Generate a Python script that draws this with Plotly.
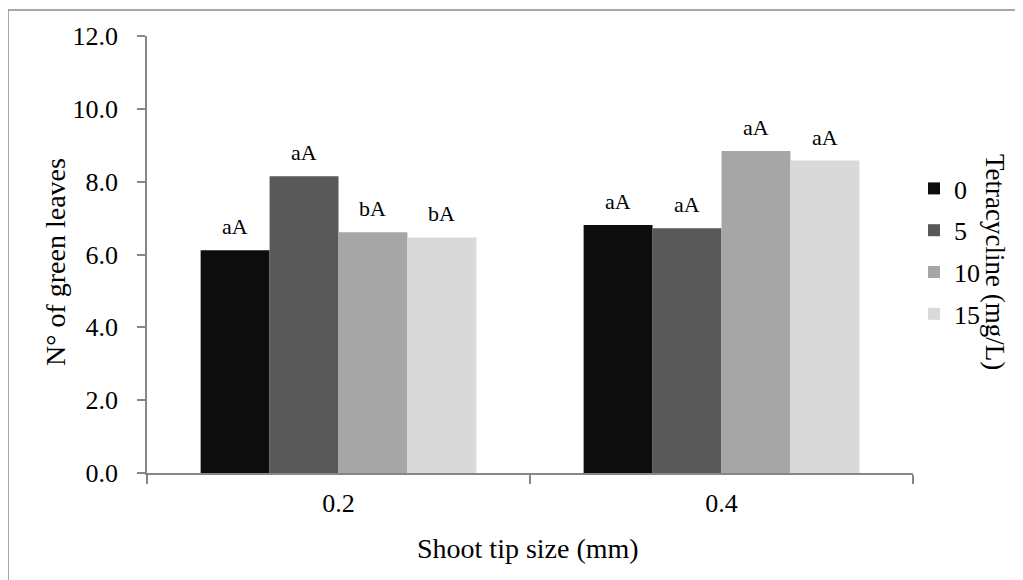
import plotly.graph_objects as go

categories = ["0.2", "0.4"]
series_names = ["0", "5", "10", "15"]
values_0 = [6.12, 6.81]
values_5 = [8.15, 6.72]
values_10 = [6.61, 8.84]
values_15 = [6.47, 8.58]
letters_0 = ["aA", "aA"]
letters_5 = ["aA", "aA"]
letters_10 = ["bA", "aA"]
letters_15 = ["bA", "aA"]
colors = ["#0d0d0d", "#595959", "#a6a6a6", "#d9d9d9"]

all_values = [values_0, values_5, values_10, values_15]
all_letters = [letters_0, letters_5, letters_10, letters_15]

FONT = "Liberation Serif, Times New Roman, serif"
# the page body adds an 8px margin, so the figure is drawn 8px smaller
OFF = 8
W, H = 1023 - OFF, 580 - OFF
# plot area in screen pixels: x 147..913, y 36..473
ML = 147 - OFF
MT = 36 - OFF
MR = W - (913 - OFF)
MB = H - (473 - OFF)
PW, PH = W - ML - MR, H - MT - MB
BARGAP = 0.28

fig = go.Figure()
for i, (name, vals) in enumerate(zip(series_names, all_values)):
    fig.add_trace(go.Bar(
        x=categories, y=vals, name=name,
        marker=dict(color=colors[i], line=dict(width=0)),
        legendgroup=name,
    ))

# bar letters as annotations centred on each bar
cat_px = PW / len(categories)
bar_px = cat_px * (1 - BARGAP) / len(series_names)
annotations = []
for i, (vals, lets) in enumerate(zip(all_values, all_letters)):
    shift = (i - (len(series_names) - 1) / 2) * bar_px
    for ci, (v, t) in enumerate(zip(vals, lets)):
        annotations.append(dict(
            x=ci, y=v, xref="x", yref="y", text=t, showarrow=False,
            xshift=shift, yshift=9, yanchor="bottom",
            font=dict(family=FONT, size=22, color="#000000"),
        ))

def px_x(p):
    return (p - 147) / PW

def px_y(p):
    return (473 - p) / PH

annotations += [
    dict(text="Shoot tip size (mm)", x=px_x(528), y=px_y(548), xref="paper", yref="paper",
         showarrow=False, xanchor="center", yanchor="middle",
         font=dict(family=FONT, size=28, color="#000000")),
    dict(text="N° of green leaves", x=px_x(55), y=px_y(262), xref="paper", yref="paper",
         showarrow=False, xanchor="center", yanchor="middle", textangle=-90,
         font=dict(family=FONT, size=28, color="#000000")),
    dict(text="Tetracycline (mg/L)", x=px_x(995), y=px_y(262), xref="paper", yref="paper",
         showarrow=False, xanchor="center", yanchor="middle", textangle=90,
         font=dict(family=FONT, size=27, color="#000000")),
]

fig.update_layout(
    width=W, height=H,
    margin=dict(l=ML, r=MR, t=MT, b=MB, pad=0),
    paper_bgcolor="white", plot_bgcolor="white",
    barmode="group", bargap=BARGAP, bargroupgap=0,
    font=dict(family=FONT, size=26, color="#000000"),
    showlegend=True,
    legend=dict(x=px_x(914), y=px_y(165), xanchor="left", yanchor="top",
                font=dict(family=FONT, size=26, color="#000000"),
                traceorder="grouped", tracegroupgap=5,
                bgcolor="rgba(0,0,0,0)", itemwidth=30),
    annotations=annotations,
    shapes=[dict(type="rect", xref="paper", yref="paper",
                 x0=px_x(8), x1=px_x(1040), y0=px_y(600), y1=px_y(10),
                 line=dict(color="#8c8c8c", width=1.5), layer="below")],
)
fig.update_xaxes(
    type="category", showline=True, linecolor="#868686", linewidth=1.5,
    ticks="outside", ticklen=9, tickcolor="#868686", tickwidth=1.5,
    tickson="boundaries", showgrid=False, zeroline=False, ticklabelstandoff=6,
    tickfont=dict(family=FONT, size=26, color="#000000"),
)
fig.update_yaxes(
    range=[0, 12], dtick=2, tickformat=".1f", showline=True, linecolor="#868686",
    linewidth=1.5, ticks="outside", ticklen=8, tickcolor="#868686", tickwidth=1.5,
    showgrid=False, zeroline=False, ticklabelstandoff=14,
    tickfont=dict(family=FONT, size=26, color="#000000"),
)

fig.write_html("out.html")
